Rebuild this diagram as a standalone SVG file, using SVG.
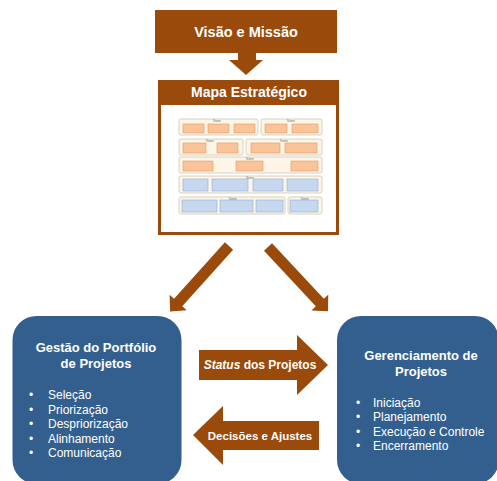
<svg xmlns="http://www.w3.org/2000/svg" width="497" height="481" viewBox="0 0 497 481">
<style>
.brown{fill:#9A4A0B}
.blue{fill:#335F8F}
.t{font-family:"Liberation Sans",Arial,sans-serif;fill:#fff}
.hb{font-weight:bold}
.grp{fill:#FDF6E8;stroke:#CFC6B4;stroke-width:0.8}
.or{fill:#F9C499;stroke:#E39A5E;stroke-width:0.6}
.bl{fill:#C6D7F0;stroke:#93AED3;stroke-width:0.6}
.nm{font-family:"Liberation Sans",Arial,sans-serif;font-size:3px;fill:#777;text-anchor:middle}
</style>
<rect width="497" height="481" fill="#fff"/>
<g id="visao">
<rect class="brown" x="155" y="10" width="182" height="43"/>
<path class="brown" d="M238,53 H256 V60 H263 L246,75 L229,60 H238 Z"/>
<text class="t hb" x="246" y="37" font-size="14.5" text-anchor="middle">Visão e Missão</text>
</g>
<g id="mapa">
<rect x="159.5" y="81.5" width="178" height="152" fill="#fff" stroke="#9A4A0B" stroke-width="3"/>
<rect class="brown" x="158" y="80" width="181" height="25"/>
<text class="t hb" x="249" y="97" font-size="14" text-anchor="middle">Mapa Estratégico</text>
<g id="map-inner">
<rect class="grp" x="179" y="119" width="79" height="16" rx="2"/>
<rect class="grp" x="261" y="119" width="61" height="16" rx="2"/>
<rect class="grp" x="179" y="139" width="64" height="16" rx="2"/>
<rect class="grp" x="246" y="139" width="76" height="16" rx="2"/>
<rect class="grp" x="179" y="157" width="143" height="16" rx="2"/>
<rect class="grp" x="179" y="176" width="143" height="17" rx="2"/>
<rect class="grp" x="179" y="197" width="106" height="17" rx="2"/>
<rect class="grp" x="288" y="197" width="34" height="17" rx="2"/>
<rect class="or" x="183" y="124" width="21" height="9"/>
<rect class="or" x="208" y="124" width="21" height="9"/>
<rect class="or" x="234" y="124" width="21" height="9"/>
<rect class="or" x="265" y="124" width="22" height="9"/>
<rect class="or" x="292" y="124" width="26" height="9"/>
<rect class="or" x="183" y="143" width="23" height="10"/>
<rect class="or" x="217" y="143" width="21" height="10"/>
<rect class="or" x="251" y="143" width="29" height="10"/>
<rect class="or" x="285" y="143" width="32" height="10"/>
<rect class="or" x="183" y="161" width="30" height="10"/>
<rect class="or" x="236" y="161" width="27" height="10"/>
<rect class="or" x="291" y="161" width="27" height="10"/>
<rect class="bl" x="183" y="179" width="25" height="12"/>
<rect class="bl" x="212" y="179" width="36" height="12"/>
<rect class="bl" x="253" y="179" width="30" height="12"/>
<rect class="bl" x="287" y="179" width="31" height="12"/>
<rect class="bl" x="182" y="200" width="35" height="12"/>
<rect class="bl" x="220" y="200" width="33" height="12"/>
<rect class="bl" x="256" y="200" width="27" height="12"/>
<rect class="bl" x="290" y="200" width="28" height="12"/>
<text class="nm" x="217" y="122">Name</text>
<text class="nm" x="291" y="122">Name</text>
<text class="nm" x="210" y="142">Name</text>
<text class="nm" x="284" y="142">Name</text>
<text class="nm" x="250" y="160">Name</text>
<text class="nm" x="250" y="179">Name</text>
<text class="nm" x="233" y="200">Name</text>
<text class="nm" x="305" y="200">Name</text>
</g>
</g>
<g id="portfolio">
<rect class="blue" x="12.5" y="316" width="169" height="168" rx="24"/>
<text class="t hb" font-size="13" text-anchor="middle"><tspan x="96" y="352">Gestão do Portfólio</tspan><tspan x="96" y="368">de Projetos</tspan></text>
<g class="t" font-size="12">
<text x="29" y="399">•</text><text x="48" y="399">Seleção</text>
<text x="29" y="414">•</text><text x="48" y="414">Priorização</text>
<text x="29" y="428">•</text><text x="48" y="428">Despriorização</text>
<text x="29" y="443">•</text><text x="48" y="443">Alinhamento</text>
<text x="29" y="457">•</text><text x="48" y="457">Comunicação</text>
</g>
</g>
<g id="gerenciamento">
<rect class="blue" x="337" y="316" width="162" height="168" rx="24"/>
<text class="t hb" font-size="13" text-anchor="middle"><tspan x="421" y="360">Gerenciamento de</tspan><tspan x="421" y="376">Projetos</tspan></text>
<g class="t" font-size="12">
<text x="356" y="407">•</text><text x="373" y="407">Iniciação</text>
<text x="356" y="421">•</text><text x="373" y="421">Planejamento</text>
<text x="356" y="436">•</text><text x="373" y="436">Execução e Controle</text>
<text x="356" y="450">•</text><text x="373" y="450">Encerramento</text>
</g>
</g>
<g id="connectors">
<polygon class="brown" transform="translate(229,246) rotate(132)" points="0,-5.5 76,-5.5 76,-11.5 88,0 76,11.5 76,5.5 0,5.5"/>
<polygon class="brown" transform="translate(268,247) rotate(47)" points="0,-5.5 76,-5.5 76,-11.5 88,0 76,11.5 76,5.5 0,5.5"/>
<g id="status">
<polygon class="brown" points="199,350 297,350 297,335 328,365 297,395 297,380 199,380"/>
<text class="t hb" x="260" y="369" font-size="12" text-anchor="middle"><tspan font-style="italic">Status</tspan> dos Projetos</text>
</g>
<g id="decisoes">
<polygon class="brown" points="193,435 223,406 223,421 319,421 319,450 223,450 223,465"/>
<text class="t hb" x="260" y="440" font-size="11.5" text-anchor="middle">Decisões e Ajustes</text>
</g>
</g>
</svg>
